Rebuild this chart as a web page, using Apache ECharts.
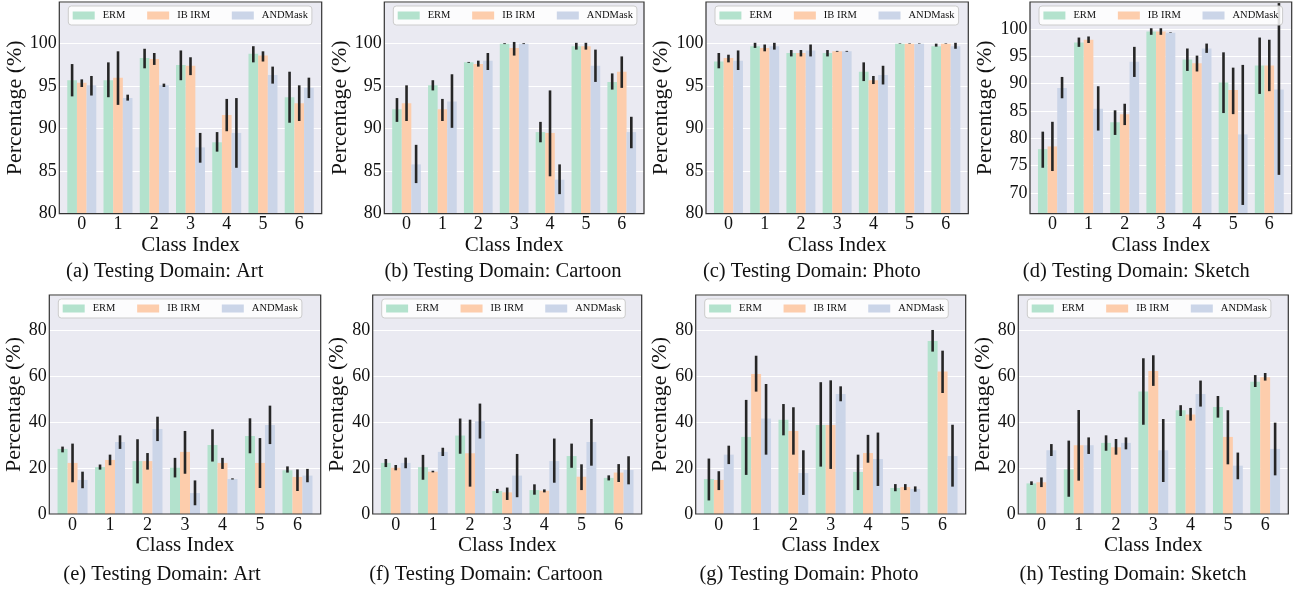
<!DOCTYPE html>
<html><head><meta charset="utf-8">
<script src="https://cdn.jsdelivr.net/npm/echarts@6/dist/echarts.min.js"></script>
<style>html,body{margin:0;padding:0;background:#fff}#c{width:1295px;height:592px}</style>
</head><body><div id="c"></div>
<script>
// ---------------- DATA ----------------
const classes = ['0', '1', '2', '3', '4', '5', '6'];
const methods = ['ERM', 'IB IRM', 'ANDMask'];

// (a) Art, accuracy on top row
const a_ERM = [95.7, 95.7, 98.3, 97.5, 88.4, 98.8, 93.7];
const a_ERM_err = [[93.8,97.6],[93.7,97.8],[97.1,99.4],[95.7,99.2],[87.3,89.6],[97.8,99.7],[90.7,96.7]];
const a_IB = [95.4, 96.0, 98.2, 97.4, 91.6, 98.6, 93.0];
const a_IB_err = [[94.9,95.8],[92.8,99.1],[97.5,98.9],[96.3,98.4],[89.7,93.5],[97.9,99.1],[90.9,95.1]];
const a_AND = [95.1, 93.6, 95.1, 87.8, 89.5, 96.3, 94.8];
const a_AND_err = [[93.9,96.2],[93.3,94.0],[94.9,95.3],[86.0,89.5],[85.4,93.6],[95.3,97.3],[93.6,96.0]];

// (b) Cartoon
const b_ERM = [92.3, 95.1, 97.8, 100.0, 89.6, 99.7, 95.5];
const b_ERM_err = [[90.8,93.6],[94.5,95.7],[97.75,97.85],[99.95,100.05],[88.4,90.8],[99.3,100.1],[94.6,96.5]];
const b_IB = [93.0, 92.3, 97.6, 99.5, 89.5, 99.7, 96.7];
const b_IB_err = [[90.9,95.1],[90.9,93.5],[97.3,98.0],[98.6,100.2],[84.4,94.5],[99.3,100.1],[94.8,98.5]];
const b_AND = [85.8, 93.2, 98.0, 100.0, 84.0, 97.4, 89.6];
const b_AND_err = [[83.6,88.1],[90.1,96.4],[96.9,98.9],[99.95,100.05],[82.3,85.8],[95.5,99.3],[87.7,91.4]];

// (c) Photo
const c_ERM = [97.9, 99.7, 98.9, 98.9, 96.7, 100.0, 99.7];
const c_ERM_err = [[97.1,98.9],[99.5,100.1],[98.5,99.25],[98.5,99.25],[95.6,97.8],[99.97,100.03],[99.65,100.0]];
const c_IB = [98.3, 99.5, 98.9, 99.1, 95.7, 100.0, 100.0];
const c_IB_err = [[97.8,98.7],[99.1,99.9],[98.5,99.25],[99.05,99.15],[95.25,96.2],[99.97,100.03],[99.97,100.03]];
const c_AND = [98.0, 99.7, 99.2, 99.1, 96.3, 100.0, 99.7];
const c_AND_err = [[96.9,99.2],[99.3,100.1],[98.5,99.9],[99.05,99.15],[95.2,97.4],[99.97,100.03],[99.4,100.1]];

// (d) Sketch
const d_ERM = [78.0, 97.5, 82.9, 99.5, 94.4, 90.2, 93.3];
const d_ERM_err = [[74.6,81.2],[96.7,98.4],[80.6,85.1],[98.9,100.1],[92.3,96.4],[84.6,95.7],[88.1,98.4]];
const d_IB = [78.5, 98.0, 84.4, 99.5, 93.7, 88.8, 93.3];
const d_IB_err = [[74.0,83.0],[97.4,98.6],[82.4,86.3],[98.9,100.1],[92.2,95.1],[84.4,92.9],[88.6,98.0]];
const d_AND = [89.2, 85.4, 94.0, 99.3, 96.4, 80.7, 88.9];
const d_AND_err = [[87.3,91.2],[81.4,89.5],[91.2,96.7],[99.25,99.35],[95.6,97.3],[67.8,93.4],[73.3,104.7]];

// (e) Art, bottom row
const e_ERM = [28.3, 20.4, 23.0, 20.1, 30.0, 33.9, 19.0];
const e_ERM_err = [[26.8,29.3],[19.3,21.5],[13.3,32.5],[15.9,24.4],[22.8,36.8],[26.4,41.6],[18.0,20.7]];
const e_IB = [22.2, 23.5, 23.0, 27.0, 22.2, 22.2, 16.1];
const e_IB_err = [[13.8,30.6],[21.2,25.8],[19.3,26.5],[17.5,36.1],[19.6,24.4],[11.3,33.0],[10.0,19.4]];
const e_AND = [14.8, 31.3, 37.0, 9.1, 15.2, 38.7, 16.7];
const e_AND_err = [[11.2,18.4],[28.3,34.2],[31.7,42.3],[3.8,14.6],[15.0,15.5],[30.4,47.1],[13.8,19.6]];

// (f) Cartoon
const f_ERM = [22.2, 20.4, 34.1, 10.0, 10.4, 25.2, 15.7];
const f_ERM_err = [[20.4,23.9],[14.9,25.7],[26.2,41.5],[9.1,10.9],[8.4,12.9],[20.1,30.6],[14.6,16.8]];
const f_IB = [20.1, 18.4, 26.4, 9.4, 10.1, 16.2, 18.0];
const f_IB_err = [[19.0,21.3],[18.1,18.8],[11.9,41.0],[6.1,11.5],[9.4,10.7],[10.4,21.6],[13.9,21.7]];
const f_AND = [22.2, 27.0, 40.3, 16.7, 23.0, 31.3, 19.1];
const f_AND_err = [[19.9,24.5],[25.2,28.8],[32.8,48.0],[7.3,26.1],[13.6,32.8],[21.0,41.3],[12.9,25.1]];

// (g) Photo
const g_ERM = [15.2, 33.5, 41.0, 38.7, 18.3, 11.3, 75.2];
const g_ERM_err = [[5.9,24.1],[17.0,49.6],[34.2,47.8],[20.6,57.3],[10.4,25.8],[9.9,13.0],[70.6,80.0]];
const g_IB = [14.8, 60.9, 36.1, 38.7, 26.5, 11.7, 61.9];
const g_IB_err = [[10.4,18.6],[53.2,68.8],[25.8,46.4],[19.6,58.1],[22.3,34.4],[10.4,13.0],[52.6,71.0]];
const g_AND = [25.8, 41.5, 17.8, 52.2, 23.9, 10.9, 25.2];
const g_AND_err = [[21.7,29.7],[25.8,56.5],[8.3,27.7],[49.0,55.5],[12.2,35.4],[9.7,12.0],[11.9,38.8]];

// (h) Sketch
const h_ERM = [13.3, 19.4, 30.9, 53.3, 45.1, 46.5, 57.5];
const h_ERM_err = [[12.6,14.2],[7.5,31.9],[27.5,34.2],[38.8,67.7],[42.6,47.3],[41.9,51.3],[55.2,60.4]];
const h_IB = [13.8, 29.9, 29.0, 62.2, 43.3, 33.5, 59.4];
const h_IB_err = [[11.7,15.9],[14.5,45.2],[25.8,32.6],[55.7,69.0],[40.6,46.1],[21.6,45.1],[58.0,61.3]];
const h_AND = [27.7, 29.9, 30.9, 27.7, 52.2, 21.0, 28.3];
const h_AND_err = [[25.2,30.4],[26.1,33.3],[28.1,33.3],[13.9,41.3],[46.7,58.0],[15.1,26.7],[16.8,39.7]];

const titles = ['(a) Testing Domain: Art', '(b) Testing Domain: Cartoon', '(c) Testing Domain: Photo', '(d) Testing Domain: Sketch',
                '(e) Testing Domain: Art', '(f) Testing Domain: Cartoon', '(g) Testing Domain: Photo', '(h) Testing Domain: Sketch'];
const yRanges = [[80,104.9,5],[80,104.9,5],[80,104.9,5],[66.2,104.9,5],[0,95.2,20],[0,95.2,20],[0,95.2,20],[0,95.2,20]];

const panelMeans = [[a_ERM,a_IB,a_AND],[b_ERM,b_IB,b_AND],[c_ERM,c_IB,c_AND],[d_ERM,d_IB,d_AND],
                    [e_ERM,e_IB,e_AND],[f_ERM,f_IB,f_AND],[g_ERM,g_IB,g_AND],[h_ERM,h_IB,h_AND]];
const panelErrs = [[a_ERM_err,a_IB_err,a_AND_err],[b_ERM_err,b_IB_err,b_AND_err],[c_ERM_err,c_IB_err,c_AND_err],[d_ERM_err,d_IB_err,d_AND_err],
                   [e_ERM_err,e_IB_err,e_AND_err],[f_ERM_err,f_IB_err,f_AND_err],[g_ERM_err,g_IB_err,g_AND_err],[h_ERM_err,h_IB_err,h_AND_err]];

// ---------------- LAYOUT / STYLE ----------------
// [left, top, right, bottom] of each plot area
const boxes = [[59.3,2,321.7,213.7],[384.3,2,644,213.7],[706,2,968.3,213.7],[1030,2,1291.7,213.7],
               [49.3,295,320.7,514],[372.7,295,641.7,514],[695.7,295,965.7,514],[1018.3,295,1288.3,514]];
const yNameGaps = [25.5, 27, 25.5, 26, 19.5, 19, 18.5, 18];
const titleX = [164.7, 503, 811.8, 1136.3, 162, 486, 809, 1133];
const COLORS = ['#b3e2cd', '#fdcdac', '#cbd5e8'];
const FONT = 'Liberation Serif';
const TXT = '#111111';
const BW = 0.8 / 3;

function renderFactory(k) {
  return function (params, api) {
    const cs = params.coordSys;
    const x = api.value(0) + (k - 1) * BW;
    const v = api.value(1), lo = api.value(2), hi = api.value(3);
    const tl = api.coord([x - BW / 2, v]);
    const br = api.coord([x + BW / 2, 0]);
    const pLo = api.coord([x, lo]);
    const pHi = api.coord([x, hi]);
    const bottom = Math.min(br[1], cs.y + cs.height);
    const top = Math.max(tl[1], cs.y);
    const eTop = Math.max(pHi[1], cs.y);
    const eBot = Math.min(pLo[1], cs.y + cs.height);
    return {
      type: 'group',
      children: [
        { type: 'rect', shape: { x: tl[0], y: top, width: br[0] - tl[0], height: bottom - top },
          style: { fill: COLORS[k] } },
        { type: 'line', shape: { x1: pLo[0], y1: eBot, x2: pHi[0], y2: eTop },
          style: { stroke: '#262626', lineWidth: 2.6 } }
      ]
    };
  };
}

const grids = [], xAxes = [], yAxes = [], series = [], legends = [], titleComps = [], graphics = [];
boxes.forEach((b, i) => {
  const [l, t, r, bt] = b;
  const top = i < 4;
  grids.push({ left: l, top: t, width: r - l, height: bt - t, show: true, backgroundColor: '#eaeaf2',
    borderWidth: 0, containLabel: false, outerBoundsMode: 'none' });
  xAxes.push({
    gridIndex: i, type: 'value', min: -0.62, max: 6.62, splitNumber: 7, minInterval: 1, maxInterval: 1,
    axisLine: { show: false }, axisTick: { show: false }, splitLine: { show: false },
    axisLabel: { margin: 2, fontSize: 18, fontFamily: FONT, color: TXT,
      formatter: v => (Math.abs(v - Math.round(v)) < 1e-6 && classes[Math.round(v)] !== undefined) ? classes[Math.round(v)] : '' },
    name: 'Class Index', nameLocation: 'middle', nameGap: top ? 14.5 : 17,
    nameTextStyle: { fontSize: 21, fontFamily: FONT, color: TXT }
  });
  const [ymin, ymax, step] = yRanges[i];
  yAxes.push({
    gridIndex: i, type: 'value', min: ymin, max: ymax, splitNumber: 5, minInterval: step, maxInterval: step,
    axisLine: { show: false }, axisTick: { show: false },
    splitLine: { show: true, lineStyle: { color: '#ffffff', width: 1.2 } },
    axisLabel: { margin: 2.5, fontSize: 18, fontFamily: FONT, color: TXT,
      formatter: v => Math.abs(v / step - Math.round(v / step)) < 1e-6 ? String(Math.round(v)) : '' },
    name: 'Percentage (%)', nameLocation: 'middle', nameGap: yNameGaps[i],
    nameTextStyle: { fontSize: 22, fontFamily: FONT, color: TXT }
  });
  methods.forEach((m, k) => {
    series.push({
      type: 'custom', name: m, xAxisIndex: i, yAxisIndex: i,
      itemStyle: { color: COLORS[k] },
      renderItem: renderFactory(k),
      encode: { x: 0, y: 1 },
      data: classes.map((c, j) => [j, panelMeans[i][k][j], panelErrs[i][k][j][0], panelErrs[i][k][j][1]])
    });
  });
  legends.push({
    data: methods, selectedMode: false, orient: 'horizontal',
    left: l + 9, top: t + 4, icon: 'rect', itemWidth: 22, itemHeight: 8, itemGap: 21.7,
    padding: [4, 4, 4, 4.4], backgroundColor: 'rgba(255,255,255,0.85)', borderColor: '#cccccc',
    borderWidth: 1, borderRadius: 3,
    textStyle: { fontSize: 10.5, fontFamily: FONT, color: TXT, padding: [0, 0, 0, 3] }
  });
  titleComps.push({
    text: titles[i], left: titleX[i], top: top ? 261 : 564.5, textAlign: 'center', padding: 0,
    textStyle: { fontSize: 20.5, fontFamily: FONT, color: TXT, fontWeight: 'normal' }
  });
  graphics.push({
    type: 'rect', z: 100, silent: true,
    shape: { x: l, y: t, width: r - l, height: bt - t },
    style: { fill: 'none', stroke: '#333333', lineWidth: 1.2 }
  });
});

const chart = echarts.init(document.getElementById('c'), null, { renderer: 'canvas' });
chart.setOption({
  animation: false,
  backgroundColor: '#ffffff',
  title: titleComps,
  grid: grids,
  xAxis: xAxes,
  yAxis: yAxes,
  legend: legends,
  series: series,
  graphic: graphics
});
</script>
</body></html>
